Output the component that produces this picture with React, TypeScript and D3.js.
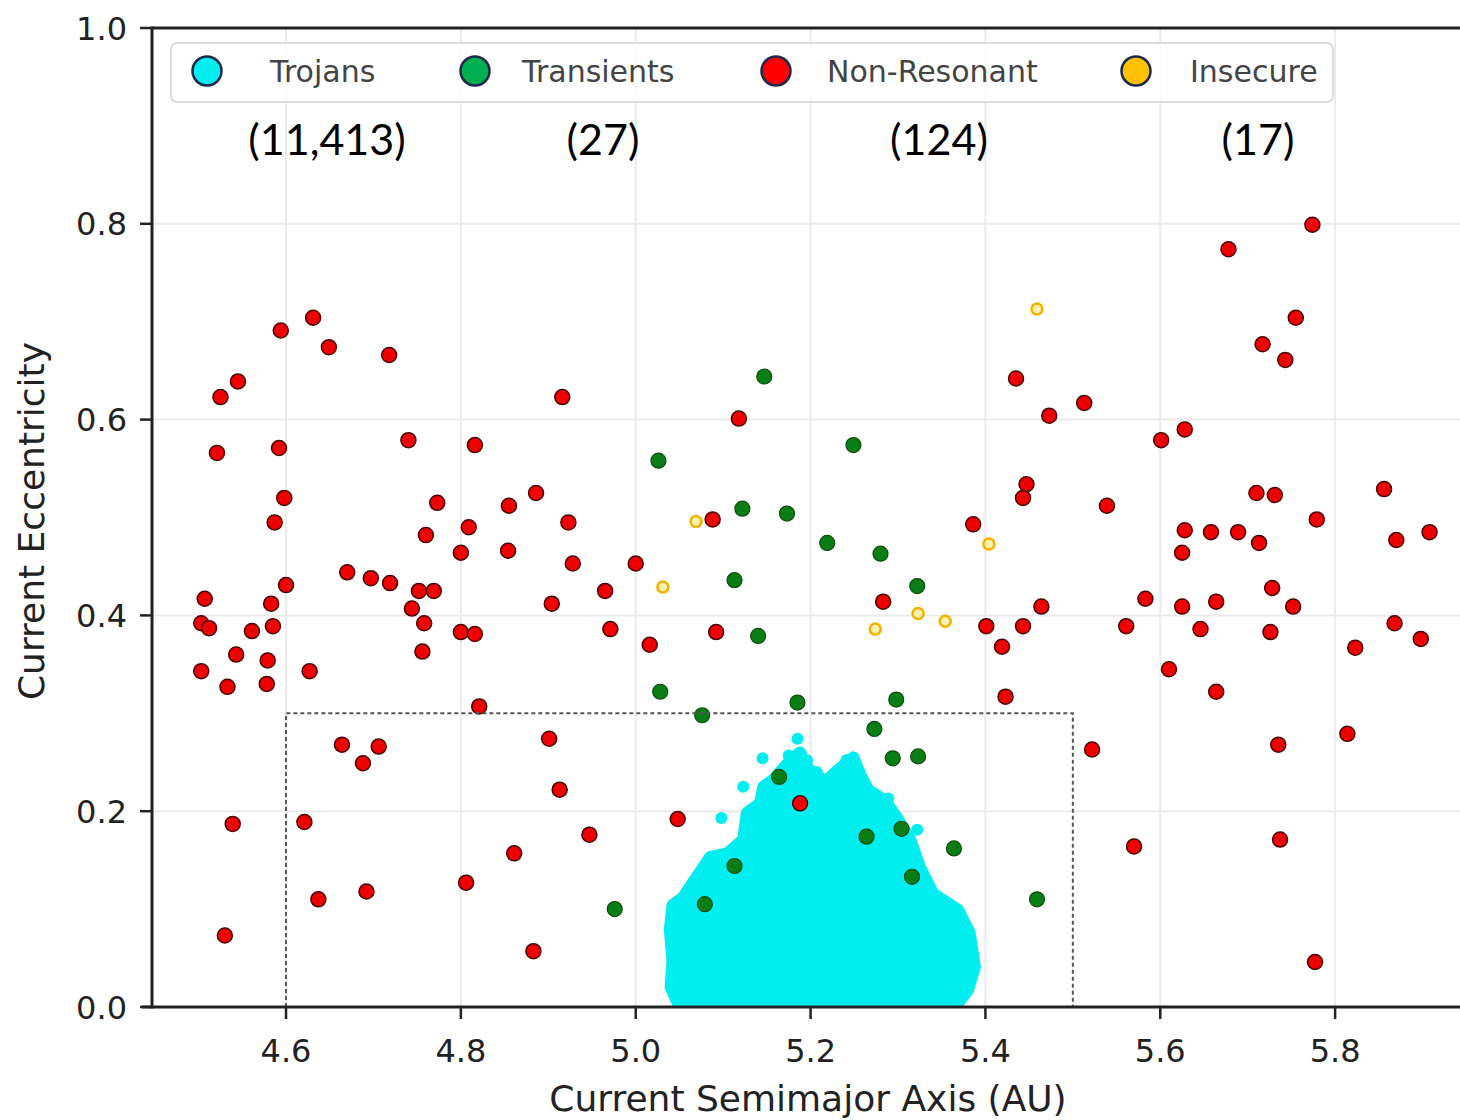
import React from "react";
import * as d3 from "d3";

// ---------- data (a = semimajor axis AU, e = eccentricity) ----------
const nonResonantA = [4.631,4.594,4.649,4.718,4.545,4.525,4.916,4.521,4.592,4.740,4.816,4.598,4.587,4.773,4.886,4.855,4.923,4.760,4.809,4.800,4.854,4.928,4.670,4.697,4.719,4.752,4.769,4.600,4.507,4.583,4.744,4.904,4.503,4.512,4.561,4.585,4.758,4.800,4.816,4.756,4.543,4.579,4.503,4.533,4.578,4.627,4.821,4.664,4.706,4.688,4.901,4.913,4.539,4.621,4.947,4.861,4.806,4.637,4.692,4.530,4.883,5.118,5.088,5.000,4.965,4.971,5.092,5.016,5.283,5.386,5.435,5.447,5.443,5.473,5.401,5.443,5.464,5.419,5.423,5.774,5.678,5.755,5.717,5.743,5.513,5.601,5.628,5.539,5.710,5.731,5.856,5.779,5.628,5.658,5.689,5.713,5.625,5.870,5.908,5.728,5.583,5.625,5.664,5.752,5.561,5.646,5.726,5.868,5.898,5.823,5.610,5.664,5.814,5.735,5.522,5.570,5.737,5.777,5.188,5.048];
const nonResonantE = [0.704,0.691,0.674,0.666,0.639,0.623,0.623,0.566,0.571,0.579,0.574,0.520,0.495,0.515,0.525,0.512,0.495,0.482,0.490,0.464,0.466,0.453,0.444,0.438,0.433,0.425,0.425,0.431,0.417,0.412,0.407,0.412,0.392,0.387,0.384,0.389,0.392,0.383,0.381,0.363,0.360,0.354,0.343,0.327,0.330,0.343,0.307,0.268,0.266,0.249,0.274,0.222,0.187,0.189,0.176,0.157,0.127,0.110,0.118,0.073,0.057,0.601,0.498,0.453,0.425,0.386,0.383,0.370,0.414,0.493,0.642,0.534,0.520,0.604,0.389,0.389,0.409,0.368,0.317,0.799,0.774,0.704,0.677,0.661,0.617,0.579,0.590,0.512,0.525,0.523,0.529,0.498,0.487,0.485,0.485,0.474,0.464,0.477,0.485,0.428,0.417,0.409,0.414,0.409,0.389,0.386,0.383,0.392,0.376,0.367,0.345,0.322,0.279,0.268,0.263,0.164,0.171,0.046,0.208,0.192];

const transientA = [5.147,5.249,5.026,5.122,5.173,5.219,5.280,5.113,5.322,5.140,5.028,5.185,5.298,5.076,5.273,5.294,5.323,5.164,5.304,5.264,5.364,5.113,5.316,5.079,4.976,5.459];
const transientE = [0.644,0.574,0.558,0.509,0.504,0.474,0.463,0.436,0.430,0.379,0.322,0.311,0.314,0.298,0.284,0.254,0.256,0.235,0.182,0.174,0.162,0.144,0.133,0.105,0.100,0.110];

const insecureA = [5.069,5.031,5.323,5.354,5.274,5.404,5.459];
const insecureE = [0.496,0.429,0.402,0.394,0.386,0.473,0.713];

// outline of the dense Trojan swarm (11,413 objects)
const trojanEnvA = [5.050,5.040,5.042,5.039,5.042,5.054,5.085,5.105,5.123,5.127,5.142,5.146,5.157,5.177,5.188,5.197,5.217,5.231,5.249,5.257,5.266,5.285,5.297,5.314,5.325,5.340,5.369,5.382,5.388,5.380,5.365];
const trojanEnvE = [0,0.020,0.048,0.079,0.104,0.112,0.153,0.157,0.171,0.198,0.208,0.225,0.232,0.252,0.260,0.244,0.230,0.242,0.255,0.237,0.222,0.211,0.196,0.171,0.143,0.116,0.099,0.076,0.041,0.017,0];
// isolated Trojans just outside the swarm outline
const trojanOutA = [5.098,5.123,5.145,5.175,5.185,5.196,5.207,5.289,5.322,5.241,5.039];
const trojanOutE = [0.193,0.225,0.254,0.257,0.274,0.252,0.240,0.213,0.181,0.252,0.079];

const legendLabels = ["Trojans", "Transients", "Non-Resonant", "Insecure"];
const legendCounts = ["(11,413)", "(27)", "(124)", "(17)"];
const legendColors = ["#00eef0", "#00b050", "#ff0000", "#ffc000"];

const xTicks = [4.6, 4.8, 5.0, 5.2, 5.4, 5.6, 5.8];
const yTicks = [0.0, 0.2, 0.4, 0.6, 0.8, 1.0];
const boxA = [4.6, 5.5];
const boxE = 0.3;

// ---------- layout ----------
const W = 1460, H = 1120;
const x = d3.scaleLinear().domain([4.4467, 5.96]).range([152, 1475]);
const y = d3.scaleLinear().domain([0, 1]).range([1007, 28]);
const FONT = "'DejaVu Sans', sans-serif";

export default function App() {
  const zip = (a: number[], e: number[]) => a.map((v, i) => [v, e[i]] as [number, number]);
  const nonRes = zip(nonResonantA, nonResonantE);
  const trans = zip(transientA, transientE);
  const insec = zip(insecureA, insecureE);
  const env = zip(trojanEnvA, trojanEnvE);
  const outs = zip(trojanOutA, trojanOutE);

  const line = d3.line<[number, number]>().x(d => x(d[0])).y(d => y(d[1]));
  const envPath = line(env) + "Z";
  const boxPath = line([[boxA[0], 0], [boxA[0], boxE], [boxA[1], boxE], [boxA[1], 0]]);

  const legendMarkerX = [207, 475, 776, 1136];
  const legendTextX = [270, 522, 827, 1190];
  const countX = [327, 603, 939, 1258];

  return (
    <svg width={W} height={H} style={{ position: "absolute", left: 0, top: 0, background: "#fff" }}>
      <rect x={0} y={0} width={W} height={H} fill="#fff" />
      <defs>
        <clipPath id="plot">
          <rect x={152} y={28} width={W - 152} height={1007 - 28} />
        </clipPath>
      </defs>
      {/* grid */}
      {xTicks.map(t => (
        <line key={"gx" + t} x1={x(t)} x2={x(t)} y1={y(1)} y2={y(0)} stroke="#ebebeb" strokeWidth={2} />
      ))}
      {yTicks.filter(t => t > 0 && t < 1).map(t => (
        <line key={"gy" + t} x1={152} x2={W} y1={y(t)} y2={y(t)} stroke="#ebebeb" strokeWidth={2} />
      ))}

      <g clipPath="url(#plot)">
        {/* Trojans */}
        <path d={envPath} fill="#00eef0" stroke="#00eef0" strokeWidth={12} strokeLinejoin="round" />
        {outs.map((d, i) => (
          <circle key={"to" + i} cx={x(d[0])} cy={y(d[1])} r={6} fill="#00eef0" />
        ))}
        {/* Transients */}
        {trans.map((d, i) => (
          <circle key={"tr" + i} cx={x(d[0])} cy={y(d[1])} r={7.5} fill="#0b7d16" stroke="#0a4f0d" strokeWidth={1.2} />
        ))}
        {/* Non-resonant */}
        {nonRes.map((d, i) => (
          <circle key={"nr" + i} cx={x(d[0])} cy={y(d[1])} r={7.5} fill="#ee0000" stroke="#4a0000" strokeWidth={1.5} />
        ))}
        {/* Insecure */}
        {insec.map((d, i) => (
          <circle key={"in" + i} cx={x(d[0])} cy={y(d[1])} r={5.5} fill="#fff1b0" stroke="#f0b400" strokeWidth={2.5} />
        ))}
      </g>

      {/* dashed region */}
      <path d={boxPath ?? ""} fill="none" stroke="#555" strokeWidth={2} strokeDasharray="4,3" />

      {/* spines */}
      <line x1={152} x2={W} y1={y(1)} y2={y(1)} stroke="#222" strokeWidth={3} />
      <line x1={142} x2={W} y1={y(0)} y2={y(0)} stroke="#222" strokeWidth={3} />
      <line x1={152} x2={152} y1={y(1) - 1.5} y2={y(0) + 1.5} stroke="#222" strokeWidth={3} />

      {/* ticks */}
      {yTicks.map(t => (
        <g key={"yt" + t}>
          <line x1={140} x2={152} y1={y(t)} y2={y(t)} stroke="#222" strokeWidth={2.5} />
          <text x={127} y={y(t)} dy="0.36em" textAnchor="end" fontFamily={FONT} fontSize={32} fill="#222">
            {t.toFixed(1)}
          </text>
        </g>
      ))}
      {xTicks.map(t => (
        <g key={"xt" + t}>
          <line x1={x(t)} x2={x(t)} y1={y(0)} y2={y(0) + 12} stroke="#222" strokeWidth={2.5} />
          <text x={x(t)} y={1062} textAnchor="middle" fontFamily={FONT} fontSize={32} fill="#222">
            {t.toFixed(1)}
          </text>
        </g>
      ))}

      {/* axis labels */}
      <text x={808} y={1111} textAnchor="middle" fontFamily={FONT} fontSize={36} fill="#222">
        Current Semimajor Axis (AU)
      </text>
      <text transform="translate(44,521) rotate(-90)" textAnchor="middle" fontFamily={FONT} fontSize={36} fill="#222">
        Current Eccentricity
      </text>

      {/* legend */}
      <rect x={171} y={43} width={1162} height={59} rx={6} fill="#fff" fillOpacity={0.85} stroke="#dcdcdc" strokeWidth={2} />
      {legendLabels.map((lab, i) => (
        <g key={"lg" + i}>
          <circle cx={legendMarkerX[i]} cy={71} r={14.5} fill={legendColors[i]} stroke="#1c2a4a" strokeWidth={2.5} />
          <text x={legendTextX[i]} y={82} fontFamily={FONT} fontSize={30} fill="#444">
            {lab}
          </text>
          <text x={countX[i]} y={155} textAnchor="middle" fontFamily="Lato, 'Open Sans', sans-serif" fontSize={43} fill="#000">
            {legendCounts[i]}
          </text>
        </g>
      ))}
    </svg>
  );
}
